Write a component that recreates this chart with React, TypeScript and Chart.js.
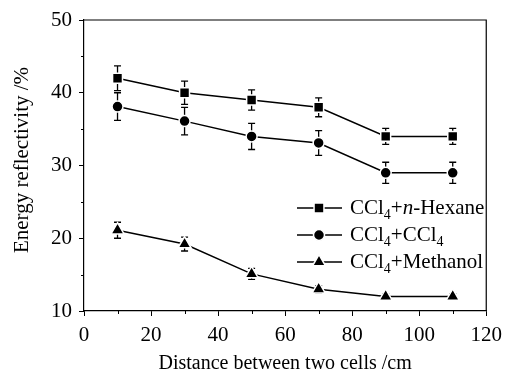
import React, { useEffect, useRef } from "react";
import { Chart, registerables } from "chart.js";

Chart.register(...registerables);

const distances = [10, 30, 50, 70, 90, 110];
const hexaneValues = [42, 40, 39, 38, 34, 34];
const hexaneErrors = [1.7, 1.6, 1.4, 1.3, 1.1, 1.1];
const ccl4Values = [38.1, 36.1, 34, 33.1, 29, 29];
const ccl4Errors = [1.9, 1.9, 1.8, 1.7, 1.45, 1.45];
const methanolValues = [21.1, 19.2, 15.1, 13, 12, 12];
const methanolErrors = [1.1, 0.95, 0.75, 0.5, 0.4, 0.4];

const xTitle = "Distance between two cells /cm";
const yTitle = "Energy reflectivity /%";

const FONT = "'Liberation Serif', 'Times New Roman', serif";

type Seg = { t: string; sub?: boolean; italic?: boolean };
const legendItems: { style: string; radius: number; segs: Seg[] }[] = [
  { style: "rect", radius: 7, segs: [{ t: "CCl" }, { t: "4", sub: true }, { t: "+" }, { t: "n", italic: true }, { t: "-Hexane" }] },
  { style: "circle", radius: 5.5, segs: [{ t: "CCl" }, { t: "4", sub: true }, { t: "+CCl" }, { t: "4", sub: true }] },
  { style: "triangle", radius: 7.5, segs: [{ t: "CCl" }, { t: "4", sub: true }, { t: "+Methanol" }] },
];

const errorSets = [hexaneErrors, ccl4Errors, methanolErrors];

function drawMarker(ctx: CanvasRenderingContext2D, style: string, r: number, x: number, y: number) {
  ctx.beginPath();
  if (style === "rect") {
    const s = Math.SQRT1_2 * r;
    ctx.rect(x - s, y - s, 2 * s, 2 * s);
  } else if (style === "circle") {
    ctx.arc(x, y, r, 0, Math.PI * 2);
  } else {
    const h = r * 1.5;
    const w = (r * Math.sqrt(3)) / 2;
    ctx.moveTo(x, y - r);
    ctx.lineTo(x + w, y - r + h);
    ctx.lineTo(x - w, y - r + h);
    ctx.closePath();
  }
  ctx.fillStyle = "#000";
  ctx.fill();
  ctx.strokeStyle = "#fff";
  ctx.lineWidth = 1.5;
  ctx.stroke();
}

const extrasPlugin = {
  id: "extras",
  beforeDatasetsDraw(chart: any) {
    const ctx = chart.ctx;
    const xs = chart.scales.x;
    const ys = chart.scales.y;
    ctx.save();
    ctx.strokeStyle = "#000";
    ctx.lineWidth = 1.3;
    chart.data.datasets.forEach((ds: any, i: number) => {
      const errs = errorSets[i];
      ds.data.forEach((p: any, j: number) => {
        const x = xs.getPixelForValue(p.x);
        const yt = ys.getPixelForValue(p.y + errs[j]);
        const yb = ys.getPixelForValue(p.y - errs[j]);
        ctx.beginPath();
        ctx.moveTo(x, yt);
        ctx.lineTo(x, yb);
        ctx.moveTo(x - 3.5, yt);
        ctx.lineTo(x + 3.5, yt);
        ctx.moveTo(x - 3.5, yb);
        ctx.lineTo(x + 3.5, yb);
        ctx.stroke();
      });
    });
    ctx.restore();
  },
  afterDraw(chart: any) {
    const ctx = chart.ctx;
    const a = chart.chartArea;
    const xs = chart.scales.x;
    const ys = chart.scales.y;
    ctx.save();
    ctx.strokeStyle = "#000";
    ctx.lineWidth = 1.2;
    ctx.beginPath();
    ctx.moveTo(a.left, a.top);
    ctx.lineTo(a.right, a.top);
    ctx.lineTo(a.right, a.bottom);
    ctx.stroke();
    ctx.lineWidth = 1;
    ctx.beginPath();
    for (let v = 10; v < 120; v += 20) {
      const x = Math.round(xs.getPixelForValue(v)) + 0.5;
      ctx.moveTo(x, a.bottom);
      ctx.lineTo(x, a.bottom + 3);
    }
    for (let v = 15; v < 50; v += 10) {
      const y = Math.round(ys.getPixelForValue(v)) + 0.5;
      ctx.moveTo(a.left, y);
      ctx.lineTo(a.left - 3, y);
    }
    ctx.stroke();

    ctx.fillStyle = "#000";
    ctx.font = `20px ${FONT}`;
    ctx.textAlign = "center";
    ctx.textBaseline = "middle";
    ctx.fillText(xTitle, (a.left + a.right) / 2, 364);
    ctx.save();
    ctx.translate(22, 160);
    ctx.rotate(-Math.PI / 2);
    ctx.font = `21px ${FONT}`;
    ctx.fillText(yTitle, 0, 0);
    ctx.restore();

    const rows = [208, 235, 262];
    legendItems.forEach((item, i) => {
      const y = rows[i];
      ctx.strokeStyle = "#000";
      ctx.lineWidth = 1.5;
      ctx.beginPath();
      ctx.moveTo(297, y);
      ctx.lineTo(342, y);
      ctx.stroke();
      drawMarker(ctx, item.style, item.radius, 319, y);
      let x = 350;
      ctx.textAlign = "left";
      ctx.textBaseline = "middle";
      ctx.fillStyle = "#000";
      item.segs.forEach((s) => {
        if (s.sub) {
          ctx.font = `14px ${FONT}`;
          ctx.fillText(s.t, x, y + 7);
        } else if (s.italic) {
          ctx.font = `italic 21px ${FONT}`;
          ctx.fillText(s.t, x, y);
        } else {
          ctx.font = `21px ${FONT}`;
          ctx.fillText(s.t, x, y);
        }
        x += ctx.measureText(s.t).width;
      });
    });
    ctx.restore();
  },
};

function toPoints(vals: number[]) {
  return distances.map((d, i) => ({ x: d, y: vals[i] }));
}

export default function App() {
  const ref = useRef<HTMLCanvasElement | null>(null);
  useEffect(() => {
    if (!ref.current) return;
    const common = {
      borderColor: "#000",
      borderWidth: 1.5,
      pointBackgroundColor: "#000",
      pointBorderColor: "#fff",
      pointBorderWidth: 1.5,
      showLine: true,
      tension: 0,
      fill: false,
    };
    const chart = new Chart(ref.current, {
      type: "scatter",
      data: {
        datasets: [
          { ...common, label: "CCl4+n-Hexane", data: toPoints(hexaneValues), pointStyle: "rect", pointRadius: 7 },
          { ...common, label: "CCl4+CCl4", data: toPoints(ccl4Values), pointStyle: "circle", pointRadius: 5.5 },
          { ...common, label: "CCl4+Methanol", data: toPoints(methanolValues), pointStyle: "triangle", pointRadius: 7.5 },
        ],
      },
      options: {
        animation: false,
        responsive: false,
        devicePixelRatio: 1,
        layout: { padding: { top: 20, right: 19, left: 0, bottom: 0 } },
        plugins: { legend: { display: false }, tooltip: { enabled: false } },
        scales: {
          x: {
            type: "linear",
            min: 0,
            max: 120,
            ticks: { stepSize: 20, color: "#000", font: { family: FONT, size: 21 }, padding: 7 },
            grid: { drawOnChartArea: false, tickLength: 5, color: "#000", tickColor: "#000" },
            border: { display: true, color: "#000", width: 1.2 },
            afterFit: (s: any) => { s.height = 65; },
          },
          y: {
            type: "linear",
            min: 10,
            max: 50,
            ticks: { stepSize: 10, color: "#000", font: { family: FONT, size: 21 }, padding: 7 },
            grid: { drawOnChartArea: false, tickLength: 5, color: "#000", tickColor: "#000" },
            border: { display: true, color: "#000", width: 1.2 },
            afterFit: (s: any) => { s.width = 84; },
          },
        },
      } as any,
      plugins: [extrasPlugin],
    });
    return () => chart.destroy();
  }, []);
  return (
    <div style={{ position: "absolute", left: 0, top: 0, width: 509, height: 376, background: "#fff" }}>
      <canvas ref={ref} width={509} height={376} />
    </div>
  );
}
